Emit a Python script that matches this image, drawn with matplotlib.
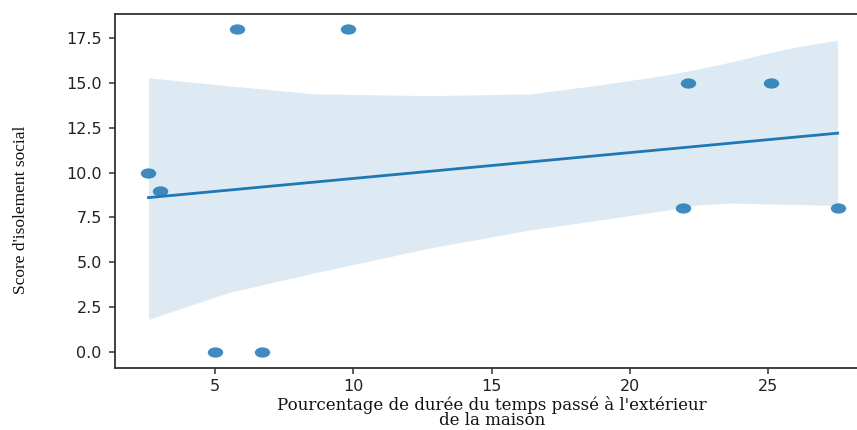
import matplotlib
matplotlib.use("Agg")
import matplotlib.pyplot as plt
import numpy as np
from matplotlib.markers import MarkerStyle
from matplotlib.transforms import Affine2D

# Data
pct_outside = [2.6, 3.0, 5.0, 5.8, 6.7, 9.8, 21.9, 22.1, 25.1, 27.5]
isolation_score = [10, 9, 0, 18, 0, 18, 8, 15, 15, 8]

# Confidence band edges
band_x = [2.6, 5.5, 8.6, 12.8, 16.4, 18.9, 21.3, 22.5, 23.7, 24.9, 26.1, 27.5]
band_upper = [15.3, 14.85, 14.4, 14.3, 14.4, 14.9, 15.45, 15.8, 16.2, 16.65, 17.05, 17.4]
band_lower = [1.8, 3.3, 4.4, 5.8, 6.8, 7.35, 7.9, 8.2, 8.3, 8.25, 8.22, 8.15]

x_ticks = [5, 10, 15, 20, 25]
y_ticks = [0.0, 2.5, 5.0, 7.5, 10.0, 12.5, 15.0, 17.5]

xlabel = "Pourcentage de durée du temps passé à l'extérieur\nde la maison"
ylabel = "Score d'isolement social"

blue = "#1f77b4"
dark = "#333333"

fig = plt.figure(figsize=(8.57, 4.30), dpi=100)
ax = fig.add_axes([115 / 857, 1 - 368.3 / 430, 742 / 857, (368.3 - 14) / 430])

# Regression line via least squares on the data
xs = np.array(pct_outside, dtype=float)
ys = np.array(isolation_score, dtype=float)
slope, intercept = np.polyfit(xs, ys, 1)
line_x = np.linspace(xs.min(), xs.max(), 100)

ax.fill_between(band_x, band_lower, band_upper, color=blue, alpha=0.15, linewidth=0)
ax.plot(line_x, slope * line_x + intercept, color=blue, linewidth=2.0, zorder=3)

marker = MarkerStyle("o", transform=Affine2D().scale(1.5, 1.0))
ax.scatter(xs, ys, s=55, marker=marker, color=blue, alpha=0.85, linewidths=0, zorder=4)

ax.set_xlim(1.39, 28.2)
ax.set_ylim(-0.93, 18.86)
ax.set_xticks(x_ticks)
ax.set_yticks(y_ticks)
ax.set_xticklabels([str(t) for t in x_ticks])
ax.set_yticklabels([f"{t:.1f}" for t in y_ticks])

for side in ["left", "bottom", "top", "right"]:
    ax.spines[side].set_color(dark)
    ax.spines[side].set_linewidth(1.3)
ax.spines["right"].set_visible(False)

ax.tick_params(axis="both", colors=dark, labelcolor="#222222", length=4.5, width=1.1,
               labelsize=11.5)
ax.tick_params(axis="y", pad=5)
ax.tick_params(axis="x", pad=3)

ax.set_xlabel(xlabel, family=["DejaVu Serif"], fontsize=12, color="#111111",
              linespacing=0.85)
ax.xaxis.set_label_coords((492 - 115) / 742, (368.3 - 396) / 354.3)
ax.xaxis.label.set_verticalalignment("top")

ax.set_ylabel(ylabel, family=["Liberation Serif"], fontsize=12.5, color="#111111")
ax.yaxis.set_label_coords((21 - 115) / 742, (368.3 - 210) / 354.3)
ax.yaxis.label.set_verticalalignment("center")

fig.savefig("out.png", dpi=100)
